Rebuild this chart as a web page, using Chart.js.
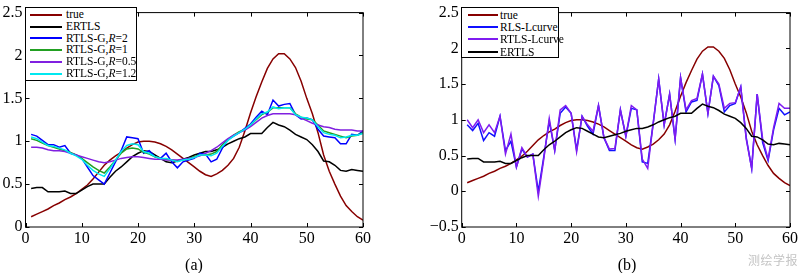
<!DOCTYPE html>
<html>
<head>
<meta charset="utf-8">
<script src="https://cdn.jsdelivr.net/npm/chart.js@4.4.1/dist/chart.umd.min.js"></script>
<style>
  html, body { margin: 0; padding: 0; background: #fff; }
  body { width: 800px; height: 273px; position: relative; overflow: hidden; font-family: "Liberation Serif", "Times New Roman", serif; }
  canvas { position: absolute; top: 0; }
  #chart-a { left: 0; }
  #chart-b { left: 420px; }
  .legend { position: absolute; top: 7px; background: #fff; border: 1px solid #000; box-sizing: border-box; font-size: 11.5px; color: #000; }
  .legend__row { position: relative; white-space: nowrap; }
  .legend__line { position: absolute; top: 50%; height: 2px; margin-top: -1px; }
  .legend__text { position: absolute; top: 0; }
  .panel-tag { position: absolute; top: 256px; width: 40px; text-align: center; font-size: 16px; line-height: 18px; }
  .watermark { position: absolute; left: 748px; top: 251px; font-family: "Noto Sans CJK SC", sans-serif; font-size: 12px; color: #c4c4c4; letter-spacing: 0.5px; }
</style>
</head>
<body>
<canvas id="chart-a" width="380" height="273"></canvas>
<canvas id="chart-b" width="380" height="273"></canvas>
<div class="legend" id="legend-a"></div>
<div class="legend" id="legend-b"></div>
<div class="panel-tag" style="left:174px;">(a)</div>
<div class="panel-tag" style="left:607px;">(b)</div>
<div class="watermark">测绘学报</div>

<script>
// ═══════════════════════════════════════════
// Two-panel comparison: true signal vs. regularised estimates
// ═══════════════════════════════════════════

const sampleIdx = [1,2,3,4,5,6,7,8,9,10,11,12,13,14,15,16,17,18,19,20,21,22,23,24,25,26,27,28,29,30,
  31,32,33,34,35,36,37,38,39,40,41,42,43,44,45,46,47,48,49,50,51,52,53,54,55,56,57,58,59,60];

const xTicks = [0, 10, 20, 30, 40, 50, 60];
const yTicksA = [0, 0.5, 1, 1.5, 2, 2.5];
const yTicksB = [-0.5, 0, 0.5, 1, 1.5, 2, 2.5];

// ── shared curves ──
const trueVals = [0.12,0.15,0.18,0.21,0.25,0.28,0.32,0.35,0.39,0.44,0.49,0.56,0.64,0.72,0.78,0.83,0.87,0.92,0.96,0.99,
  1.00,1.00,0.99,0.97,0.94,0.90,0.85,0.80,0.75,0.70,0.65,0.61,0.59,0.62,0.66,0.72,0.80,0.93,1.12,1.33,
  1.52,1.69,1.85,1.96,2.02,2.02,1.96,1.86,1.70,1.50,1.32,1.10,0.84,0.65,0.50,0.36,0.25,0.18,0.12,0.08];

const ertlsVals = [0.45,0.46,0.46,0.41,0.41,0.41,0.42,0.39,0.39,0.43,0.47,0.50,0.50,0.50,0.58,0.65,0.70,0.76,0.82,0.86,
  0.89,0.88,0.84,0.80,0.76,0.75,0.77,0.79,0.81,0.84,0.86,0.88,0.88,0.90,0.93,0.97,1.00,1.03,1.05,1.09,
  1.09,1.09,1.16,1.22,1.19,1.17,1.13,1.08,1.05,1.02,0.96,0.88,0.77,0.76,0.72,0.66,0.65,0.67,0.66,0.65];

// ── panel (a): RTLS-G with different R ──
const rtlsR2 = [1.08,1.06,1.01,0.96,0.96,0.93,0.95,0.86,0.84,0.80,0.70,0.60,0.55,0.50,0.63,0.76,0.89,1.05,1.04,1.03,
  0.86,0.89,0.82,0.80,0.86,0.76,0.69,0.76,0.78,0.80,0.86,0.85,0.76,0.79,0.92,1.02,1.06,1.10,1.15,1.20,
  1.28,1.35,1.31,1.48,1.41,1.43,1.44,1.31,1.26,1.27,1.25,1.14,1.06,1.05,1.04,0.97,0.97,1.08,1.07,1.12];

const rtlsR1 = [1.03,1.01,0.98,0.95,0.93,0.91,0.89,0.87,0.84,0.80,0.75,0.70,0.66,0.63,0.70,0.78,0.86,0.91,0.92,0.91,
  0.87,0.85,0.82,0.80,0.79,0.78,0.77,0.78,0.80,0.82,0.84,0.84,0.85,0.88,0.96,1.02,1.07,1.11,1.13,1.19,
  1.25,1.31,1.34,1.39,1.39,1.39,1.39,1.32,1.28,1.26,1.25,1.19,1.12,1.10,1.08,1.06,1.04,1.06,1.07,1.10];

const rtlsR05 = [0.93,0.93,0.92,0.90,0.89,0.89,0.88,0.86,0.84,0.82,0.80,0.78,0.76,0.75,0.76,0.78,0.80,0.81,0.82,0.82,
  0.81,0.80,0.79,0.79,0.78,0.78,0.78,0.79,0.80,0.81,0.83,0.86,0.89,0.93,0.98,1.03,1.07,1.10,1.13,1.17,
  1.22,1.27,1.30,1.32,1.32,1.32,1.32,1.31,1.27,1.24,1.21,1.19,1.17,1.16,1.14,1.13,1.13,1.13,1.12,1.12];

const rtlsR12 = [1.05,1.03,0.99,0.95,0.94,0.92,0.90,0.86,0.83,0.79,0.72,0.66,0.62,0.59,0.68,0.78,0.88,0.95,0.97,0.96,
  0.88,0.86,0.82,0.80,0.80,0.78,0.76,0.78,0.79,0.81,0.84,0.84,0.83,0.86,0.94,1.01,1.06,1.10,1.14,1.19,
  1.26,1.32,1.34,1.40,1.38,1.39,1.39,1.31,1.28,1.27,1.25,1.17,1.10,1.08,1.07,1.04,1.05,1.07,1.07,1.09];

// ── panel (b): L-curve solutions ──
const rlsLcurve = [0.93,0.85,0.95,0.71,0.82,0.77,1.05,0.57,0.70,0.34,0.59,0.48,0.52,0.00,0.48,0.98,0.57,1.09,1.18,1.09,
  0.58,1.05,0.91,0.80,1.20,0.75,0.57,0.57,1.14,0.77,1.16,1.14,0.41,0.39,0.95,1.57,0.93,1.36,0.73,1.59,
  1.11,1.25,1.27,1.64,1.09,1.61,1.48,1.11,1.20,1.23,1.46,0.75,0.32,1.36,0.68,0.43,0.86,1.16,1.07,1.11];

const rtlsLcurve = [1.00,0.89,1.00,0.82,0.93,0.82,1.05,0.52,0.80,0.34,0.61,0.48,0.52,-0.07,0.45,1.02,0.57,1.14,1.20,1.09,
  0.55,1.05,0.93,0.84,1.20,0.75,0.59,0.60,1.14,0.77,1.20,1.14,0.45,0.32,0.95,1.57,0.93,1.36,0.73,1.59,
  1.14,1.27,1.30,1.64,1.09,1.61,1.50,1.16,1.23,1.24,1.46,0.73,0.32,1.36,0.73,0.45,0.89,1.23,1.16,1.16];

const labelsA = ['true', 'ERTLS', 'RTLS-G,R=2', 'RTLS-G,R=1', 'RTLS-G,R=0.5', 'RTLS-G,R=1.2'];
const valuesA = [trueVals, ertlsVals, rtlsR2, rtlsR1, rtlsR05, rtlsR12];
const colorsA = ['#870000', '#000000', '#0000ff', '#22a022', '#8020e0', '#00e8f0'];

const labelsB = ['true', 'RLS-Lcurve', 'RTLS-Lcurve', 'ERTLS'];
const valuesB = [trueVals, rlsLcurve, rtlsLcurve, ertlsVals];
const colorsB = ['#870000', '#1010ff', '#7f1cf0', '#000000'];

const TICK_LEN = 4;
const FONT = { family: '"Liberation Serif", "Times New Roman", serif', size: 16 };

// ── frame + inward tick marks on all four sides ──
const boxTicks = {
  id: 'boxTicks',
  afterDatasetsDraw(chart) {
    const { ctx, chartArea: a, scales: { x, y } } = chart;
    ctx.save();
    ctx.strokeStyle = '#000';
    ctx.lineWidth = 1;
    ctx.beginPath();
    x.ticks.forEach(t => {
      const px = Math.round(x.getPixelForValue(t.value)) + 0.5;
      ctx.moveTo(px, a.bottom); ctx.lineTo(px, a.bottom - TICK_LEN);
      ctx.moveTo(px, a.top); ctx.lineTo(px, a.top + TICK_LEN);
    });
    y.ticks.forEach(t => {
      const py = Math.round(y.getPixelForValue(t.value)) + 0.5;
      ctx.moveTo(a.left, py); ctx.lineTo(a.left + TICK_LEN, py);
      ctx.moveTo(a.right, py); ctx.lineTo(a.right - TICK_LEN, py);
    });
    ctx.stroke();
    ctx.strokeRect(a.left, a.top, a.right - a.left, a.bottom - a.top);
    ctx.restore();
  }
};

function buildChart(canvasId, labels, values, colors, yTicks, yAxisWidth, rightPad) {
  const n = labels.length;
  return new Chart(document.getElementById(canvasId), {
    type: 'line',
    data: {
      datasets: values.map((vals, k) => ({
        label: labels[k],
        data: vals.map((v, j) => ({ x: sampleIdx[j], y: v })),
        borderColor: colors[k],
        borderWidth: 1.5,
        pointRadius: 0,
        tension: 0,
        fill: false,
        order: n - k   // later series on top, like the original plot
      }))
    },
    options: {
      responsive: false,
      animation: false,
      events: [],
      layout: { padding: { top: 7, right: rightPad, left: 0, bottom: 0 } },
      plugins: { legend: { display: false }, tooltip: { enabled: false } },
      scales: {
        x: {
          type: 'linear',
          min: xTicks[0], max: xTicks[xTicks.length - 1],
          afterBuildTicks: s => { s.ticks = xTicks.map(v => ({ value: v })); },
          afterFit: s => { s.height = 46; },
          grid: { display: false, drawTicks: false },
          border: { display: false },
          ticks: { color: '#000', font: FONT, padding: 2, maxRotation: 0 }
        },
        y: {
          min: yTicks[0], max: yTicks[yTicks.length - 1],
          afterBuildTicks: s => { s.ticks = yTicks.map(v => ({ value: v })); },
          afterFit: s => { s.width = yAxisWidth; },
          grid: { display: false, drawTicks: false },
          border: { display: false },
          ticks: { color: '#000', font: FONT, padding: 3, callback: v => String(v).replace('-', '\u2212') }
        }
      }
    },
    plugins: [boxTicks]
  });
}

// ── HTML legend box, built from the same labels/colours ──
function renderLegend(el, labels, colors, box) {
  el.style.left = box.left + 'px';
  el.style.width = box.width + 'px';
  el.style.height = box.height + 'px';
  el.style.paddingTop = box.padTop + 'px';
  el.innerHTML = labels.map((lab, k) => `
    <div class="legend__row" style="height:${box.row}px;">
      <span class="legend__line" style="left:${box.lineLeft}px;width:${box.lineWidth}px;background:${colors[k]};"></span>
      <span class="legend__text" style="left:${box.textLeft}px;line-height:${box.row}px;">${lab.replace(',R=', ',<i>R</i>=')}</span>
    </div>
  `).join('');
}

buildChart('chart-a', labelsA, valuesA, colorsA, yTicksA, 25.5, 17);
buildChart('chart-b', labelsB, valuesB, colorsB, yTicksB, 41.7, 8);

renderLegend(document.getElementById('legend-a'), labelsA, colorsA,
  { left: 25, width: 112, height: 74, padTop: 1, row: 11.8, lineLeft: 4, lineWidth: 32, textLeft: 40 });
renderLegend(document.getElementById('legend-b'), labelsB, colorsB,
  { left: 461, width: 98, height: 51, padTop: 0.5, row: 12.4, lineLeft: 6, lineWidth: 30, textLeft: 38 });
</script>
</body>
</html>
